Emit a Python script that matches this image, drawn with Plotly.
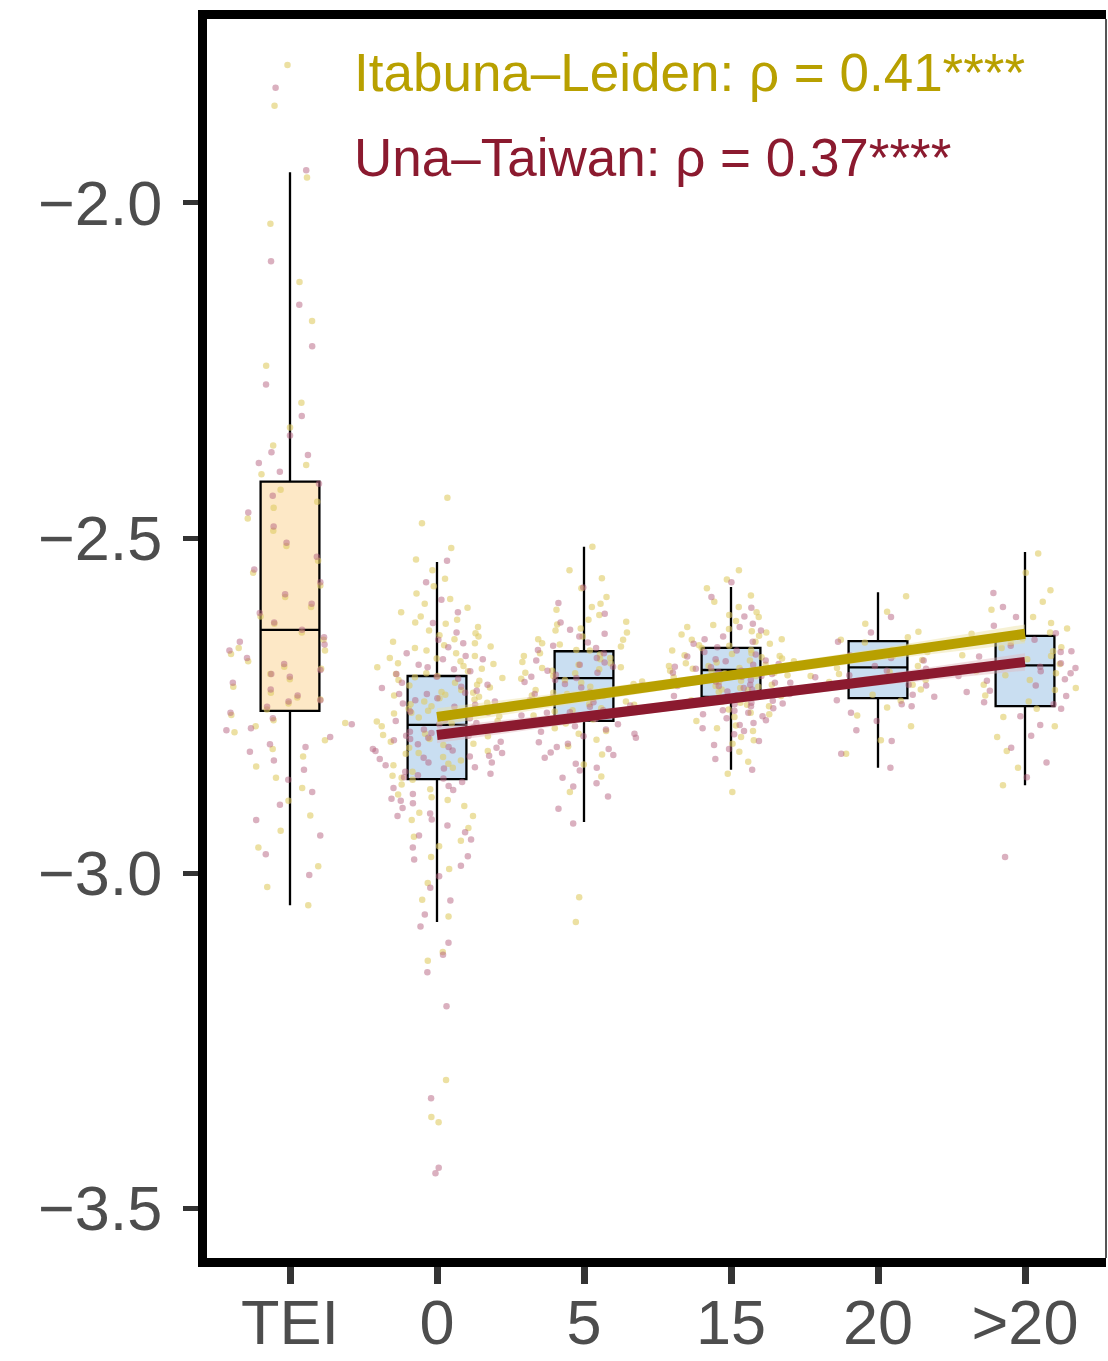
import plotly.graph_objects as go

# ---------------- data ----------------
categories = ["TEI", "0", "5", "15", "20", ">20"]

# box statistics
box_q1 = [-2.758, -2.860, -2.773, -2.737, -2.739, -2.751]
box_median = [-2.637, -2.779, -2.709, -2.697, -2.693, -2.690]
box_q3 = [-2.416, -2.706, -2.669, -2.664, -2.654, -2.646]
box_low = [-3.048, -3.073, -2.924, -2.846, -2.843, -2.869]
box_high = [-1.954, -2.536, -2.513, -2.573, -2.581, -2.521]

# individual observations, Itabuna-Leiden (gold)
gold_TEI = [-1.794, -1.855, -1.962, -2.031, -2.118, -2.176, -2.243, -2.298, -2.335, -2.362, -2.391, -2.405,
            -2.428, -2.446, -2.471, -2.489, -2.512, -2.534, -2.552, -2.571, -2.588, -2.603, -2.617, -2.628,
            -2.641, -2.652, -2.664, -2.673, -2.684, -2.692, -2.703, -2.711, -2.722, -2.731, -2.738, -2.747,
            -2.756, -2.764, -2.772, -2.781, -2.79, -2.802, -2.815, -2.826, -2.841, -2.858, -2.873, -2.892,
            -2.914, -2.937, -2.962, -2.99, -3.021, -3.048, -2.455, -2.695, -2.741, -2.776, -2.668]
gold_0 = [-2.44, -2.478, -2.515, -2.532, -2.548, -2.561, -2.572, -2.583, -2.591, -2.598, -2.604, -2.611,
          -2.617, -2.622, -2.628, -2.633, -2.638, -2.642, -2.647, -2.651, -2.655, -2.66, -2.664, -2.668,
          -2.672, -2.676, -2.68, -2.684, -2.688, -2.691, -2.695, -2.699, -2.702, -2.706, -2.709, -2.713,
          -2.716, -2.72, -2.723, -2.727, -2.73, -2.734, -2.737, -2.741, -2.744, -2.748, -2.751, -2.755,
          -2.758, -2.762, -2.766, -2.769, -2.773, -2.777, -2.781, -2.784, -2.788, -2.792, -2.796, -2.8,
          -2.804, -2.809, -2.813, -2.818, -2.822, -2.827, -2.832, -2.837, -2.843, -2.849, -2.855, -2.861,
          -2.868, -2.875, -2.883, -2.891, -2.9, -2.91, -2.921, -2.933, -2.946, -2.96, -2.976, -2.994,
          -3.015, -3.04, -3.065, -3.118, -3.131, -3.309, -3.364, -3.372, -2.657, -2.703, -2.739, -2.774,
          -2.626, -2.645, -2.662, -2.679, -2.693, -2.708, -2.719, -2.731, -2.746, -2.757, -2.768, -2.782,
          -2.794, -2.807, -2.821, -2.839, -2.858, -2.887, -2.915, -2.952, -2.687, -2.712, -2.735, -2.761]
gold_5 = [-2.513, -2.548, -2.56, -2.575, -2.588, -2.598, -2.607, -2.615, -2.622, -2.629, -2.635, -2.641,
          -2.647, -2.652, -2.657, -2.662, -2.667, -2.672, -2.676, -2.681, -2.685, -2.689, -2.694, -2.698,
          -2.702, -2.706, -2.71, -2.714, -2.718, -2.722, -2.727, -2.731, -2.735, -2.74, -2.744, -2.749,
          -2.754, -2.759, -2.765, -2.771, -2.777, -2.784, -2.792, -2.801, -2.811, -2.823, -2.838, -2.856,
          -2.879, -3.036, -3.073, -2.651, -2.693, -2.712, -2.668, -2.733, -2.625, -2.748, -2.603, -2.638,
          -2.659, -2.674, -2.687, -2.701, -2.716, -2.729, -2.741, -2.757, -2.769, -2.788, -2.679, -2.696]
gold_15 = [-2.548, -2.562, -2.575, -2.586, -2.595, -2.603, -2.611, -2.618, -2.624, -2.63, -2.636, -2.641,
           -2.646, -2.651, -2.655, -2.66, -2.664, -2.668, -2.672, -2.676, -2.68, -2.684, -2.687, -2.691,
           -2.694, -2.698, -2.701, -2.705, -2.708, -2.712, -2.715, -2.719, -2.722, -2.726, -2.73, -2.734,
           -2.738, -2.742, -2.746, -2.751, -2.756, -2.761, -2.767, -2.773, -2.78, -2.788, -2.797, -2.807,
           -2.819, -2.834, -2.852, -2.879, -2.658, -2.673, -2.689, -2.702, -2.717, -2.644, -2.683, -2.695,
           -2.709, -2.727, -2.667, -2.633, -2.744, -2.699, -2.678, -2.721, -2.652, -2.691, -2.615, -2.639,
           -2.661, -2.675, -2.686, -2.697, -2.706, -2.713, -2.724, -2.736, -2.749, -2.763, -2.784, -2.802]
gold_20 = [-2.587, -2.61, -2.628, -2.64, -2.648, -2.656, -2.663, -2.67, -2.676, -2.682, -2.688, -2.694,
           -2.7, -2.706, -2.712, -2.719, -2.726, -2.734, -2.743, -2.753, -2.765, -2.781, -2.802, -2.822,
           -2.667, -2.691, -2.703, -2.652, -2.715]
gold_gt20 = [-2.523, -2.552, -2.578, -2.595, -2.607, -2.618, -2.627, -2.635, -2.643, -2.65, -2.657, -2.663,
             -2.669, -2.675, -2.681, -2.687, -2.693, -2.699, -2.705, -2.712, -2.719, -2.727, -2.735, -2.744,
             -2.755, -2.767, -2.781, -2.797, -2.818, -2.843, -2.869, -2.664, -2.688, -2.702, -2.641, -2.724,
             -2.676]

# individual observations, Una-Taiwan (maroon)
maroon_TEI = [-1.828, -1.951, -2.087, -2.152, -2.214, -2.271, -2.318, -2.347, -2.372, -2.388, -2.401, -2.419,
              -2.437, -2.462, -2.483, -2.507, -2.528, -2.547, -2.566, -2.584, -2.598, -2.612, -2.626, -2.637,
              -2.648, -2.659, -2.668, -2.679, -2.688, -2.697, -2.707, -2.716, -2.726, -2.735, -2.744, -2.752,
              -2.761, -2.769, -2.778, -2.787, -2.797, -2.808, -2.819, -2.832, -2.846, -2.861, -2.879, -2.898,
              -2.921, -2.944, -2.972, -3.003, -2.376, -2.655, -2.742, -2.703, -2.784, -2.812]
maroon_0 = [-2.534, -2.566, -2.592, -2.611, -2.627, -2.641, -2.652, -2.663, -2.672, -2.681, -2.689, -2.696,
            -2.703, -2.71, -2.716, -2.722, -2.728, -2.733, -2.739, -2.744, -2.749, -2.754, -2.759, -2.764,
            -2.769, -2.773, -2.778, -2.782, -2.787, -2.791, -2.795, -2.8, -2.804, -2.808, -2.813, -2.817,
            -2.821, -2.826, -2.83, -2.835, -2.839, -2.844, -2.849, -2.854, -2.859, -2.864, -2.87, -2.876,
            -2.882, -2.889, -2.896, -2.903, -2.911, -2.92, -2.929, -2.939, -2.95, -2.962, -2.975, -2.989,
            -3.005, -3.022, -3.041, -3.062, -3.08, -3.104, -3.122, -3.148, -3.199, -3.336, -3.44, -3.448,
            -2.747, -2.786, -2.812, -2.699, -2.835, -2.761, -2.724, -2.852, -2.681, -2.795, -2.818, -2.742,
            -2.657, -2.676, -2.693, -2.707, -2.719, -2.731, -2.752, -2.766, -2.776, -2.789, -2.802, -2.815,
            -2.828, -2.842, -2.857, -2.873, -2.892, -2.915, -2.944, -2.98, -2.772, -2.798, -2.733, -2.825]
maroon_5 = [-2.574, -2.597, -2.613, -2.626, -2.637, -2.647, -2.656, -2.664, -2.672, -2.679, -2.686, -2.692,
            -2.698, -2.704, -2.709, -2.715, -2.72, -2.725, -2.73, -2.735, -2.74, -2.745, -2.75, -2.755,
            -2.76, -2.765, -2.77, -2.775, -2.781, -2.786, -2.792, -2.798, -2.805, -2.812, -2.82, -2.828,
            -2.837, -2.847, -2.858, -2.871, -2.886, -2.904, -2.926, -2.742, -2.718, -2.761, -2.689, -2.796,
            -2.733, -2.707, -2.778, -2.752, -2.667, -2.815, -2.643, -2.661, -2.683, -2.701, -2.723, -2.738,
            -2.757, -2.772, -2.789, -2.807, -2.824, -2.843, -2.866, -2.712, -2.748, -2.768]
maroon_15 = [-2.566, -2.588, -2.604, -2.617, -2.628, -2.638, -2.647, -2.655, -2.663, -2.67, -2.677, -2.683,
             -2.689, -2.695, -2.7, -2.706, -2.711, -2.716, -2.721, -2.726, -2.731, -2.736, -2.741, -2.746,
             -2.751, -2.757, -2.763, -2.769, -2.776, -2.784, -2.793, -2.803, -2.815, -2.83, -2.846, -2.705,
             -2.719, -2.733, -2.692, -2.748, -2.684, -2.727, -2.712, -2.761, -2.698, -2.739, -2.674, -2.754,
             -2.721, -2.707, -2.688, -2.743, -2.766, -2.729, -2.701, -2.658, -2.714, -2.779, -2.633, -2.651,
             -2.668, -2.681, -2.693, -2.703, -2.716, -2.724, -2.735, -2.747, -2.758, -2.772, -2.788, -2.809]
maroon_20 = [-2.618, -2.641, -2.655, -2.666, -2.675, -2.683, -2.691, -2.698, -2.705, -2.712, -2.719, -2.726,
             -2.734, -2.742, -2.751, -2.761, -2.773, -2.787, -2.803, -2.822, -2.843, -2.695, -2.72, -2.708,
             -2.737, -2.679, -2.748]
maroon_gt20 = [-2.582, -2.603, -2.618, -2.631, -2.642, -2.652, -2.661, -2.669, -2.677, -2.685, -2.692, -2.699,
               -2.706, -2.713, -2.72, -2.728, -2.736, -2.745, -2.755, -2.766, -2.779, -2.795, -2.813, -2.835,
               -2.857, -2.976, -2.694, -2.711, -2.67, -2.73, -2.687, -2.748, -2.702]

# fitted trend lines and their confidence bands
fit_x = ["0", "5", "15", "20", ">20"]
gold_fit = [-2.767, -2.736, -2.705, -2.674, -2.643]
gold_se = [0.013, 0.009, 0.007, 0.009, 0.014]
maroon_fit = [-2.794, -2.767, -2.740, -2.712, -2.685]
maroon_se = [0.012, 0.008, 0.006, 0.008, 0.013]

label_gold = "Itabuna\u2013Leiden: \u03c1 = 0.41****"
label_maroon = "Una\u2013Taiwan: \u03c1 = 0.37****"

y_ticks = [-2.0, -2.5, -3.0, -3.5]
y_ticktext = ["\u22122.0", "\u22122.5", "\u22123.0", "\u22123.5"]

# ---------------- styles ----------------
GOLD = "#B8A000"
MAROON = "#8B1A2F"
FONT = "Liberation Sans, Arial, Helvetica, sans-serif"

fig = go.Figure()

# boxes (TEI orange, others blue)
box_fills = ["#FDE8C6", "#C9DEF1"]
fig.add_trace(go.Box(
    x=categories[:1], q1=box_q1[:1], median=box_median[:1], q3=box_q3[:1],
    lowerfence=box_low[:1], upperfence=box_high[:1],
    fillcolor=box_fills[0], line=dict(color="black", width=2.3), whiskerwidth=0,
    width=0.4, boxpoints=False, showlegend=False, hoverinfo="skip"))
fig.add_trace(go.Box(
    x=categories[1:], q1=box_q1[1:], median=box_median[1:], q3=box_q3[1:],
    lowerfence=box_low[1:], upperfence=box_high[1:],
    fillcolor=box_fills[1], line=dict(color="black", width=2.3), whiskerwidth=0,
    width=0.4, boxpoints=False, showlegend=False, hoverinfo="skip"))

gold_groups = [gold_TEI, gold_0, gold_5, gold_15, gold_20, gold_gt20]
maroon_groups = [maroon_TEI, maroon_0, maroon_5, maroon_15, maroon_20, maroon_gt20]


def points_trace(groups, color):
    xs, ys = [], []
    for cat, vals in zip(categories, groups):
        xs += [cat] * len(vals)
        ys += vals
    return go.Box(
        x=xs, y=ys, boxpoints="all", jitter=1, pointpos=0, width=0.95,
        fillcolor="rgba(0,0,0,0)", line=dict(color="rgba(0,0,0,0)", width=0),
        marker=dict(size=6.5, color=color), showlegend=False, hoveron="points")


fig.add_trace(points_trace(gold_groups, "rgba(224,204,100,0.6)"))
fig.add_trace(points_trace(maroon_groups, "rgba(182,98,128,0.5)"))

# confidence bands and lines
for fit, se, band, col in [(gold_fit, gold_se, "rgba(235,225,160,0.45)", GOLD),
                           (maroon_fit, maroon_se, "rgba(225,185,190,0.45)", MAROON)]:
    upper = [f + s for f, s in zip(fit, se)]
    lower = [f - s for f, s in zip(fit, se)]
    fig.add_trace(go.Scatter(
        x=fit_x + fit_x[::-1], y=upper + lower[::-1], fill="toself",
        fillcolor=band, line=dict(width=0), mode="lines",
        showlegend=False, hoverinfo="skip"))
    fig.add_trace(go.Scatter(
        x=[fit_x[0], fit_x[-1]], y=[fit[0], fit[-1]], mode="lines",
        line=dict(color=col, width=10), showlegend=False))

fig.add_annotation(text=label_gold, xref="paper", yref="paper", x=0.161, y=0.957,
                   xanchor="left", yanchor="middle", showarrow=False,
                   font=dict(family=FONT, size=53, color=GOLD))
fig.add_annotation(text=label_maroon, xref="paper", yref="paper", x=0.161, y=0.888,
                   xanchor="left", yanchor="middle", showarrow=False,
                   font=dict(family=FONT, size=53, color=MAROON))

# thin right border
fig.add_shape(type="line", xref="paper", yref="paper", x0=1, x1=1, y0=0, y1=1,
              line=dict(color="#555555", width=2))

fig.update_layout(
    width=1108, height=1361,
    margin=dict(l=207, r=2, t=19, b=103),
    paper_bgcolor="white", plot_bgcolor="white",
    boxmode="overlay", showlegend=False,
    font=dict(family=FONT),
)
fig.update_xaxes(
    type="category", categoryorder="array", categoryarray=categories,
    range=[-0.5646, 5.551], showgrid=False, zeroline=False, automargin=False,
    showline=True, linecolor="black", linewidth=9, mirror=True,
    ticks="outside", ticklen=17, tickwidth=7, tickcolor="#333333",
    ticklabelstandoff=-16,
    tickfont=dict(size=63, color="#4D4D4D", family=FONT),
)
fig.update_yaxes(
    range=[-3.5746, -1.7254], showgrid=False, zeroline=False, automargin=False,
    showline=True, linecolor="black", linewidth=9, mirror=False,
    tickvals=y_ticks, ticktext=y_ticktext,
    ticks="outside", ticklen=15, tickwidth=5, tickcolor="#333333",
    ticklabelstandoff=8,
    tickfont=dict(size=63, color="#4D4D4D", family=FONT),
)

fig.write_html("out.html")
